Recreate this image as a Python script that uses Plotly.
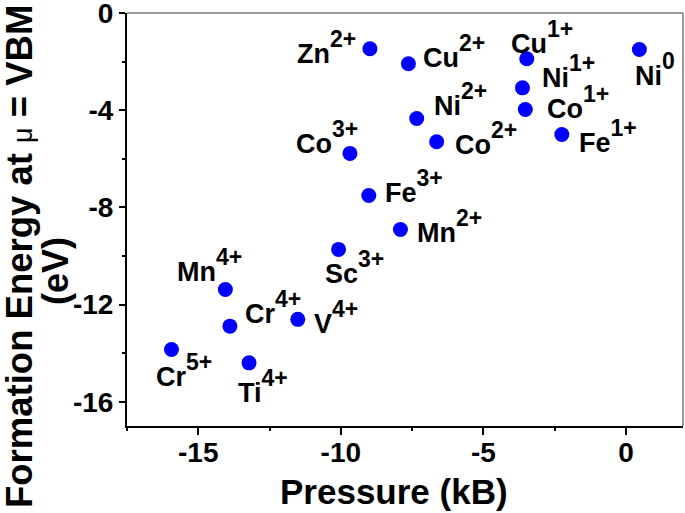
import plotly.graph_objects as go

# ---- data ----
ions = ["Zn", "Cu", "Cu", "Ni", "Ni", "Co", "Fe", "Ni", "Co", "Co", "Fe", "Mn",
        "Sc", "Mn", "Cr", "V", "Cr", "Ti"]
charges = ["2+", "2+", "1+", "0", "1+", "1+", "1+", "2+", "2+", "3+", "3+", "2+",
           "3+", "4+", "4+", "4+", "5+", "4+"]
pressure = [-8.98, -7.63, -3.48, 0.47, -3.63, -3.53, -2.25, -7.34, -6.64, -9.68,
            -9.02, -7.91, -10.08, -14.05, -13.89, -11.51, -15.94, -13.22]
energy = [-1.47, -2.09, -1.88, -1.50, -3.08, -3.97, -5.00, -4.34, -5.30, -5.78,
          -7.51, -8.91, -9.73, -11.38, -12.89, -12.61, -13.85, -14.40]

x_ticks = [-15, -10, -5, 0]
y_ticks = [0, -4, -8, -12, -16]

# label offsets (pixels) of each label box's left edge / vertical centre from its point
label_dx = [-75, 12.4, -17.7, -6, 17.7, 19.7, 15, 15.3, 16, -56, 14.6, 15,
            -16, -50.7, 12.7, 14.7, -17.7, -12.6]
label_dy = [-1, -12, -21, 20, -16, -7, 2, -19, -3, -16, -8.5, -3,
            18, -24, -18.5, -2, 21, 23.4]

FONT = "Liberation Sans, Arial, sans-serif"

# plot area in pixels
L, R, T, B = 127, 683, 13, 426
W, H = R - L, B - T


def px_x(p):
    return (p - L) / W


def px_y(p):
    return (B - p) / H


fig = go.Figure()
fig.add_trace(go.Scatter(
    x=pressure, y=energy, mode="markers",
    marker=dict(color="#0000FF", size=15, line=dict(width=0)),
    showlegend=False, hoverinfo="skip", cliponaxis=False,
))

annotations = []
for name, ch, px, py, dx, dy in zip(ions, charges, pressure, energy, label_dx, label_dy):
    annotations.append(dict(
        x=px, y=py, xref="x", yref="y",
        text=f"<b>{name}<sup><span style='font-size:23px;baseline-shift:5px'>{ch}</span></sup></b>",
        showarrow=False, xanchor="left", yanchor="middle",
        xshift=dx, yshift=-dy,
        font=dict(family=FONT, size=27, color="black"),
    ))

# axis titles
annotations.append(dict(
    x=px_x(394), y=px_y(491), xref="paper", yref="paper",
    text="<b>Pressure (kB)</b>", showarrow=False,
    xanchor="center", yanchor="middle",
    font=dict(family=FONT, size=35, color="black"),
))
annotations.append(dict(
    x=px_x(19), y=px_y(257), xref="paper", yref="paper",
    text="<b>Formation Energy at <span style='font-weight:normal;font-size:27px'>μ</span> = VBM</b>",
    showarrow=False, textangle=-90,
    xanchor="center", yanchor="middle",
    font=dict(family=FONT, size=36.5, color="black"),
))
annotations.append(dict(
    x=px_x(55), y=px_y(271), xref="paper", yref="paper",
    text="<b>(eV)</b>",
    showarrow=False, textangle=-90,
    xanchor="center", yanchor="middle",
    font=dict(family=FONT, size=36, color="black"),
))

fig.update_layout(
    width=685, height=513,
    margin=dict(l=L, r=685 - R, t=T, b=513 - B, autoexpand=False),
    paper_bgcolor="white", plot_bgcolor="white",
    annotations=annotations,
    shapes=[
        dict(type="line", xref="paper", yref="paper", x0=0, x1=1, y0=1, y1=1,
             line=dict(color="#777777", width=1.5)),
        dict(type="line", xref="paper", yref="paper", x0=1, x1=1, y0=0, y1=1,
             line=dict(color="#777777", width=1.5)),
    ],
)

fig.update_xaxes(
    range=[-17.5, 2], tickvals=x_ticks, ticktext=[str(v) for v in x_ticks],
    showgrid=False, zeroline=False, automargin=False,
    showline=True, linecolor="black", linewidth=2,
    ticks="outside", ticklen=7, tickwidth=2, tickcolor="black",
    ticklabeloverflow="allow", ticklabelstandoff=-7,
    tickfont=dict(family=FONT, size=28, color="black", weight="bold"),
    minor=dict(dtick=2.5, tick0=0, ticks="outside", ticklen=3, tickwidth=2,
               tickcolor="black", showgrid=False),
)
fig.update_yaxes(
    range=[-17, 0.0001], tickvals=y_ticks, ticktext=[str(v) for v in y_ticks],
    showgrid=False, zeroline=False, automargin=False,
    showline=True, linecolor="black", linewidth=2,
    ticks="outside", ticklen=6, tickwidth=2, tickcolor="black",
    ticklabeloverflow="allow",
    tickfont=dict(family=FONT, size=28, color="black", weight="bold"),
    minor=dict(dtick=2, tick0=0, ticks="outside", ticklen=3, tickwidth=2,
               tickcolor="black", showgrid=False),
)

fig.write_html(
    "out.html",
    config={"displayModeBar": False},
    post_script="document.body.style.margin='0';document.body.style.padding='0';",
)
